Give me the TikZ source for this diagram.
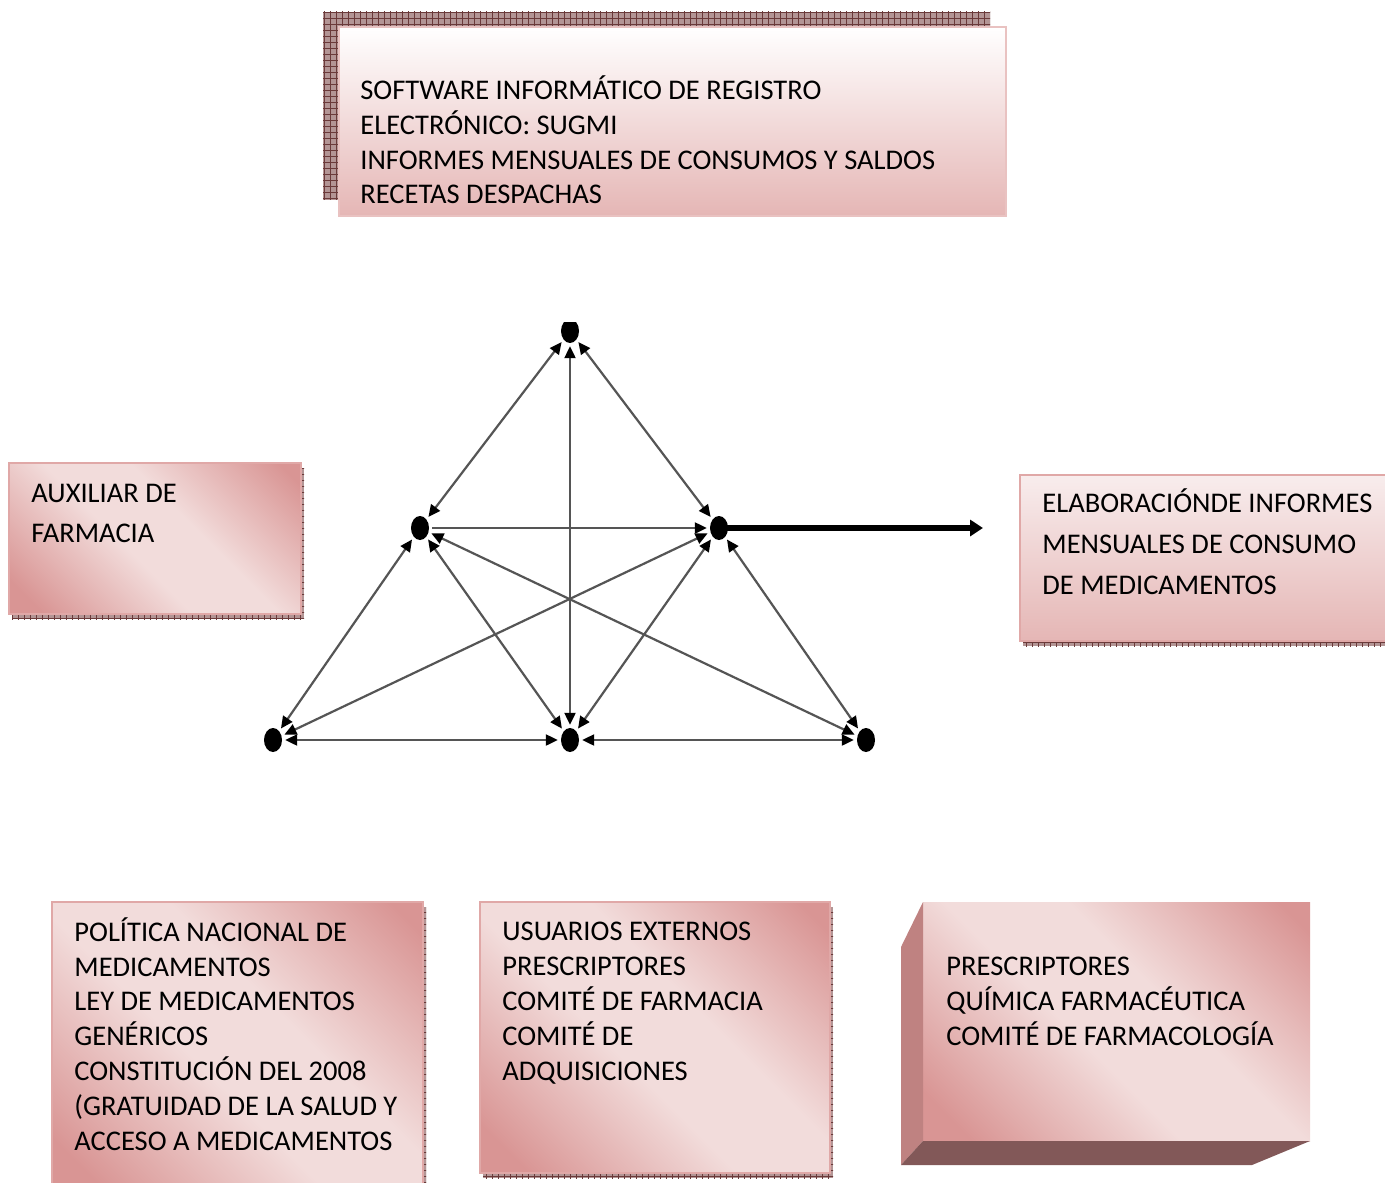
\documentclass[tikz,border=0pt]{standalone}
\usepackage{fontspec}
\setmainfont{Carlito}
\usetikzlibrary{arrows.meta,shapes.geometric,patterns}

\definecolor{rosedark}{HTML}{D99594}
\definecolor{roselight}{HTML}{F2DCDB}
\definecolor{roseedge}{HTML}{E0A8A7}
\definecolor{rosebottom}{HTML}{E5B6B5}
\definecolor{rosetop}{HTML}{F8EDED}
\definecolor{shadowbase}{HTML}{B39595}
\definecolor{shadowgrid}{HTML}{6B3A3A}
\definecolor{sideface}{HTML}{BF8281}
\definecolor{baseface}{HTML}{825858}
\definecolor{linkgray}{HTML}{555555}

% two-tone diagonal fill: dark corners, light band across the middle
\pgfdeclarehorizontalshading{rosediag}{100bp}{color(0bp)=(rosedark); color(20bp)=(rosedark); color(44bp)=(roselight); color(58bp)=(roselight); color(82bp)=(rosedark); color(100bp)=(rosedark)}

\begin{document}
\begin{tikzpicture}[x=0.5pt,y=-0.5pt,
  % multi-line nodes: the base anchor sits on the last line's baseline
  txt/.style={align=left, anchor=base west, inner sep=0pt},
  shadowfill/.style={preaction={fill=shadowbase}, pattern=grid, pattern color=shadowgrid},
  boxedge/.style={draw=roseedge, line width=1pt},
  diagfill/.style={shading=rosediag, shading angle=45},
  dot/.style={ellipse, fill=black, minimum width=9pt, minimum height=12pt, inner sep=0pt, outer sep=1.6pt},
  tip/.tip={Triangle[length=6pt,width=5.5pt,color=black]},
  link/.style={draw=linkgray, line width=1.1pt, tip-tip},
  onelink/.style={draw=linkgray, line width=1.1pt, -tip},
  report/.style={draw=black, line width=2.8pt, -{Triangle[length=6.5pt,width=8pt]}}
]
\useasboundingbox (0,0) rectangle (1385,1182);
\clip (0,0) rectangle (1385,1182);
\fill[white] (0,0) rectangle (1385,1182);

% ---- top box: software and reports
\path[shadowfill] (323,12) rectangle (990,200);
\path[draw=roseedge!70!white, line width=1pt, top color=white, bottom color=rosebottom] (339,27) rectangle (1006,216);
\node[txt, font=\fontsize{14.25}{17.35}\selectfont] (software) at (360,204)
  {SOFTWARE INFORMÁTICO DE REGISTRO\\ELECTRÓNICO: SUGMI\\INFORMES MENSUALES DE CONSUMOS Y SALDOS\\RECETAS DESPACHAS};

% ---- left box: pharmacy assistant
\path[shadowfill] (12,468) rectangle (304,619);
\path[boxedge, diagfill] (9,463) rectangle (301,614);
\node[txt, font=\fontsize{14.25}{20}\selectfont] (auxiliar) at (31,542)
  {AUXILIAR DE\\FARMACIA};

% ---- right box: monthly reports
\path[shadowfill] (1023,480) rectangle (1400,646);
\path[boxedge, top color=rosetop, bottom color=rosebottom] (1020,475) rectangle (1395,641);
\node[txt, font=\fontsize{14.25}{20.5}\selectfont] (informes) at (1042,594)
  {ELABORACIÓNDE INFORMES\\MENSUALES DE CONSUMO\\DE MEDICAMENTOS};

% ---- bottom left box: legal framework
\path[shadowfill] (55,907) rectangle (426,1195);
\path[boxedge, diagfill] (52,902) rectangle (423,1190);
\node[txt, font=\fontsize{14.25}{17.4}\selectfont] (politica) at (74,1150)
  {POLÍTICA NACIONAL DE\\MEDICAMENTOS\\LEY DE MEDICAMENTOS\\GENÉRICOS\\CONSTITUCIÓN DEL 2008\\(GRATUIDAD DE LA SALUD Y\\ACCESO A MEDICAMENTOS};

% ---- bottom middle box: users and committees
\path[shadowfill] (483,907) rectangle (833,1178);
\path[boxedge, diagfill] (480,902) rectangle (830,1173);
\node[txt, font=\fontsize{14.25}{17.4}\selectfont] (usuarios) at (502,1080)
  {USUARIOS EXTERNOS\\PRESCRIPTORES\\COMITÉ DE FARMACIA\\COMITÉ DE\\ADQUISICIONES};

% ---- bottom right block with bevelled sides
\path[diagfill] (923,902) rectangle (1310,1141);
\fill[sideface] (923,902) -- (901,947) -- (901,1165) -- (923,1141) -- cycle;
\fill[baseface] (901,1165) -- (1252,1165) -- (1310,1141) -- (923,1141) -- cycle;
\node[txt, font=\fontsize{14.25}{17.4}\selectfont] (prescriptores) at (946,1045)
  {PRESCRIPTORES\\QUÍMICA FARMACÉUTICA\\COMITÉ DE FARMACOLOGÍA};

% ---- network of actors
\begin{scope}
  \clip (500,322) rectangle (640,360);
  \node[dot] (A) at (570,331) {};
\end{scope}
\node[dot] (B) at (420,528) {};
\node[dot] (C) at (719,528) {};
\node[dot] (D) at (273,740) {};
\node[dot] (E) at (570,740) {};
\node[dot] (F) at (866,740) {};
\coordinate (out) at (983,528);

\draw[link] (A) -- (B);
\draw[link] (A) -- (C);
\draw[link] (A) -- (E);
\draw[onelink] (B) -- (C);
\draw[link] (B) -- (D);
\draw[link] (B) -- (E);
\draw[link] (B) -- (F);
\draw[link] (C) -- (D);
\draw[link] (C) -- (E);
\draw[link] (C) -- (F);
\draw[link] (D) -- (E);
\draw[link] (E) -- (F);
\draw[report] (C.center) -- (out);
\end{tikzpicture}
\end{document}
